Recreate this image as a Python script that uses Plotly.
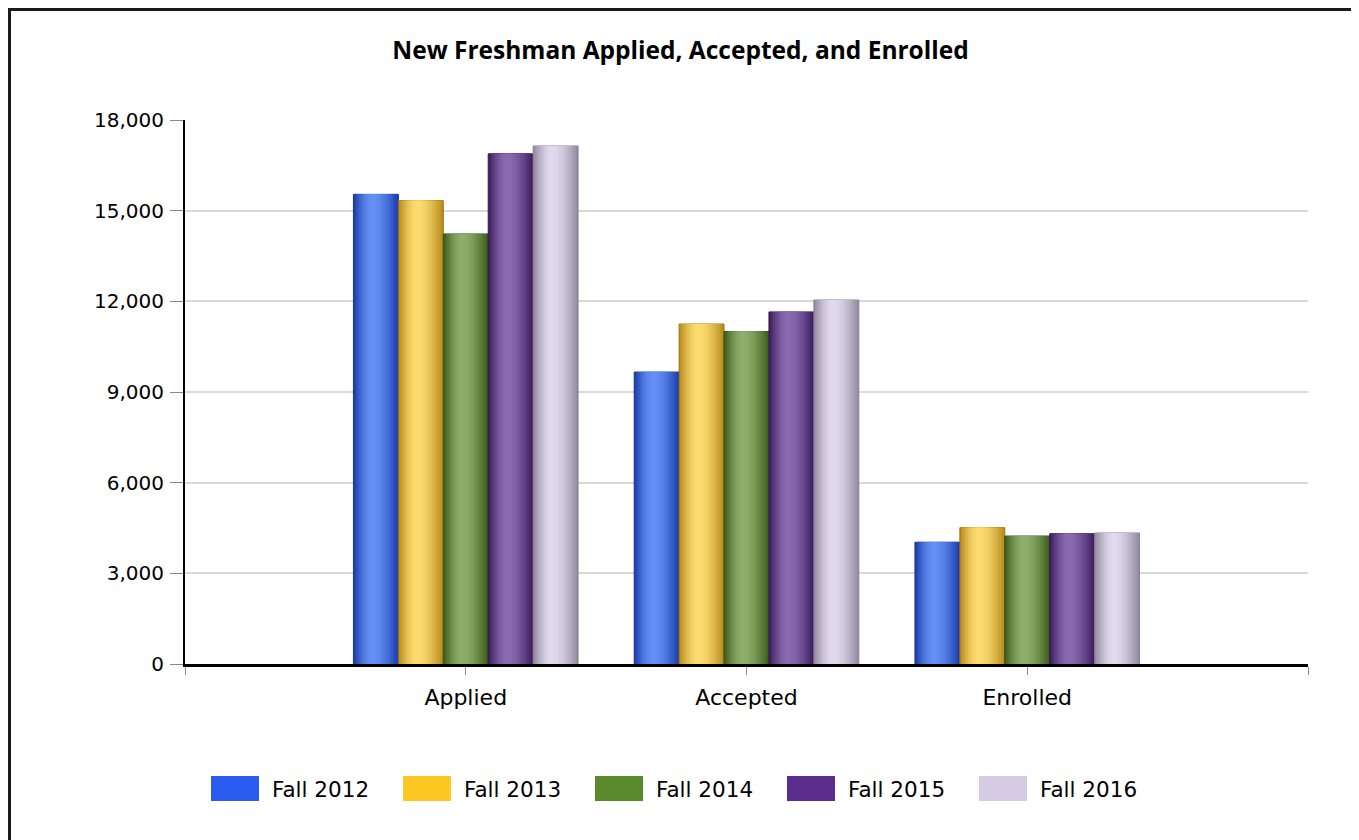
import math
import plotly.graph_objects as go

# ---------------- data ----------------
categories = ["Applied", "Accepted", "Enrolled"]
series_names = ["Fall 2012", "Fall 2013", "Fall 2014", "Fall 2015", "Fall 2016"]
fall_2012 = [15540, 9660, 4030]
fall_2013 = [15330, 11250, 4510]
fall_2014 = [14230, 11000, 4235]
fall_2015 = [16880, 11650, 4310]
fall_2016 = [17140, 12045, 4335]
series_values = [fall_2012, fall_2013, fall_2014, fall_2015, fall_2016]
y_ticks = [0, 3000, 6000, 9000, 12000, 15000, 18000]

# ---------------- style ----------------
legend_colors = ["#2b5cf0", "#fec824", "#5a8a2c", "#5b2c8c", "#d6cce3"]
edge_colors = ["#1c3fae", "#b98d1e", "#3f5f1c", "#3e1f5e", "#958ba2"]
center_colors = ["#6590f5", "#fddc70", "#8eae6c", "#8a6ab2", "#e1daee"]
outline_colors = ["#1a3590", "#9c7614", "#33501a", "#351a52", "#8a8096"]

OFF = 8  # page body margin
W, H = 1359 - OFF, 840 - OFF
ML, MR, MT, MB = 185 - OFF, 51, 120 - OFF, 176
PW, PH = W - ML - MR, H - MT - MB


def hex2rgb(h):
    h = h.lstrip("#")
    return [int(h[i:i + 2], 16) for i in (0, 2, 4)]


def mix(a, b, s):
    ra, rb = hex2rgb(a), hex2rgb(b)
    return "rgb(%d,%d,%d)" % tuple(round(ra[i] + (rb[i] - ra[i]) * s) for i in range(3))


def px2x(px):
    # page pixel -> paper x
    return (px - OFF - ML) / PW


def py2y(py):
    # page pixel -> paper y
    return (OFF + MT + PH - py) / PH


x_pos = list(range(len(categories)))
n_series = len(series_names)
group_w = 0.8
bar_w = group_w / n_series
n_layers = 14
hl = 0.42  # highlight position across the bar

fig = go.Figure()

for i, (name, vals) in enumerate(zip(series_names, series_values)):
    c = (i - (n_series - 1) / 2) * bar_w
    for k in range(n_layers):
        t = k / n_layers
        left = c - bar_w / 2 + t * bar_w * hl
        right = c + bar_w / 2 - t * bar_w * (1 - hl)
        s = math.sin(t * math.pi / 2)
        col = mix(edge_colors[i], center_colors[i], s)
        fig.add_trace(go.Bar(
            x=x_pos, y=vals, name=name,
            width=[right - left] * len(vals),
            offset=[left] * len(vals),
            marker=dict(color=col,
                        line=dict(color=outline_colors[i], width=1 if k == 0 else 0)),
            showlegend=False,
            hoverinfo="skip" if k else None,
            hovertemplate=None if k else "%{text}<br>" + name + ": %{y:,}<extra></extra>",
            text=categories if k == 0 else None,
            textposition="none",
        ))

# legend drawn as swatches + text
shapes = []
annotations = []
for i, name in enumerate(series_names):
    x0 = 211 + 192 * i
    shapes.append(dict(type="rect", xref="paper", yref="paper",
                       x0=px2x(x0), x1=px2x(x0 + 48), y0=py2y(801), y1=py2y(776),
                       fillcolor=legend_colors[i], line=dict(width=0)))
    annotations.append(dict(xref="paper", yref="paper", x=px2x(x0 + 59), y=py2y(789),
                            xanchor="left", yanchor="middle", showarrow=False, text=name,
                            font=dict(family="DejaVu Sans", size=21.5, color="#000")))

# outer frame
shapes.append(dict(type="rect", xref="paper", yref="paper",
                   x0=px2x(OFF + 1.5), x1=px2x(1356), y0=py2y(860), y1=py2y(OFF + 1.5),
                   line=dict(color="#1a1a1a", width=3), fillcolor="rgba(0,0,0,0)"))

fig.update_layout(
    width=W, height=H, autosize=False,
    margin=dict(l=ML, r=MR, t=MT, b=MB),
    paper_bgcolor="white", plot_bgcolor="white",
    barmode="overlay",
    showlegend=False,
    title=dict(text="<b>New Freshman Applied, Accepted, and Enrolled</b>",
               x=(680.5 - OFF) / W, xref="container", xanchor="center",
               y=1 - (50 - OFF) / H, yref="container", yanchor="middle",
               font=dict(family="Open Sans", size=24.5, color="#000")),
    xaxis=dict(range=[-1, len(categories)],
               tickmode="array", tickvals=[-1] + x_pos + [len(categories)],
               ticktext=[""] + categories + [""],
               ticks="outside", ticklen=8, tickcolor="#888", tickwidth=1,
               ticklabelstandoff=4,
               showline=True, linecolor="#000", linewidth=3,
               showgrid=False, zeroline=False,
               tickfont=dict(family="DejaVu Sans", size=22, color="#000")),
    yaxis=dict(range=[0, 18000], tickmode="array", tickvals=y_ticks,
               tickformat=",", ticks="outside", ticklen=13, tickcolor="#888", tickwidth=1,
               ticklabelstandoff=2,
               showline=True, linecolor="#000", linewidth=2,
               showgrid=True, gridcolor="#d9d9d9", gridwidth=2, zeroline=False,
               tickfont=dict(family="DejaVu Sans", size=20, color="#000")),
    shapes=shapes, annotations=annotations,
)

fig.write_html("out.html")
